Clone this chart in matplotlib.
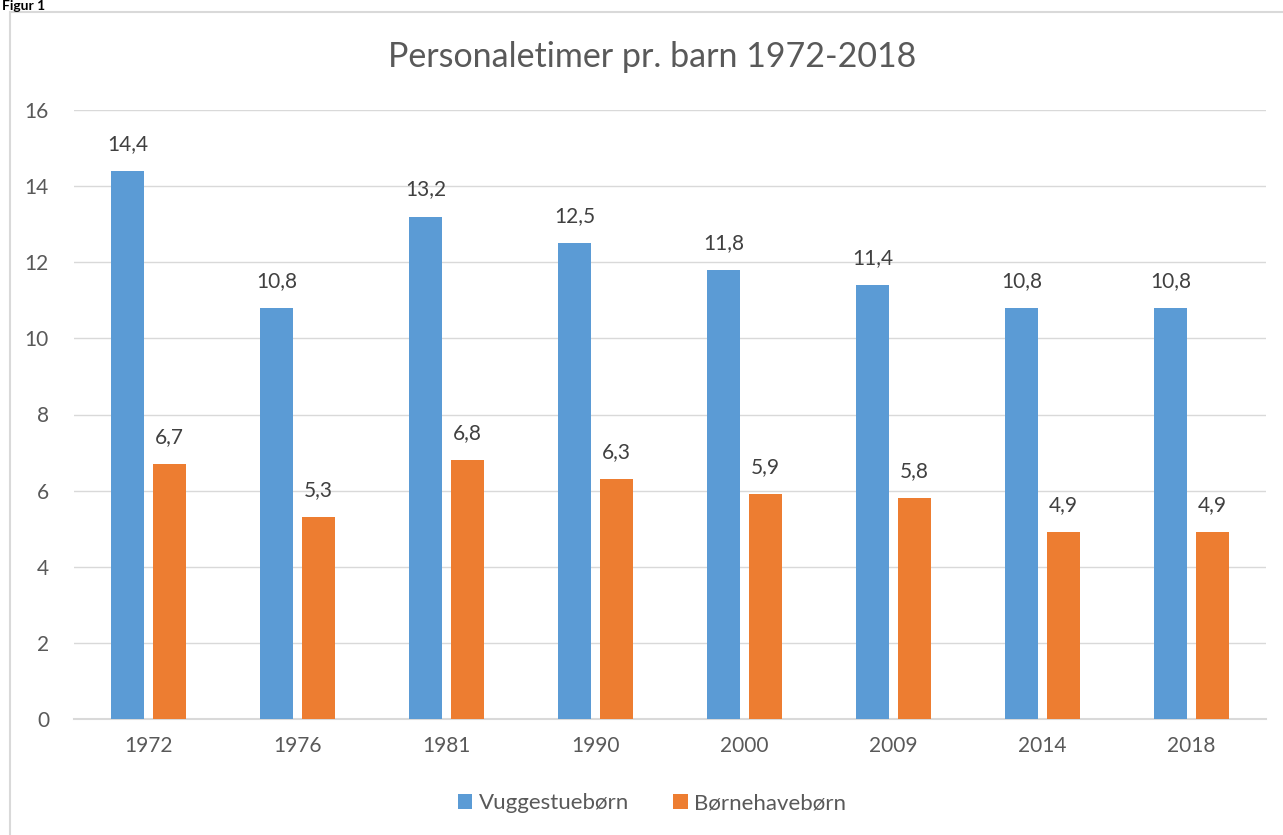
import matplotlib

matplotlib.use("Agg")

import matplotlib.pyplot as plt
from matplotlib.patches import Rectangle
import numpy as np

years = ["1972", "1976", "1981", "1990", "2000", "2009", "2014", "2018"]
vuggestue = [14.4, 10.8, 13.2, 12.5, 11.8, 11.4, 10.8, 10.8]
boernehave = [6.7, 5.3, 6.8, 6.3, 5.9, 5.8, 4.9, 4.9]
yticks = [0, 2, 4, 6, 8, 10, 12, 14, 16]

plt.rcParams["font.family"] = ["Lato", "DejaVu Sans"]
text_color = "#595959"
grid_color = "#D9D9D9"

fig = plt.figure(figsize=(12.83, 8.35), dpi=100)
fig.patch.set_facecolor("white")

# chart frame (runs off at right/bottom like the source screenshot)
fig.patches.append(Rectangle((10 / 1283, -0.05), 1.1, 1 - 12 / 835 + 0.05,
                             transform=fig.transFigure, fill=False,
                             edgecolor=grid_color, linewidth=1.5))
fig.text(2 / 1283, 1 - 10 / 835, "Figur 1", fontsize=10, fontweight="bold",
         color="black", ha="left", va="baseline")

ax = fig.add_axes([74 / 1283, 1 - 719 / 835, (1266 - 74) / 1283, (719 - 110) / 835])
x = np.arange(len(years))
w = 0.222
off = 0.141
b1 = ax.bar(x - off, vuggestue, w, color="#5B9BD5", label="Vuggestuebørn", zorder=3)
b2 = ax.bar(x + off, boernehave, w, color="#ED7D31", label="Børnehavebørn", zorder=3)

for bars, vals in ((b1, vuggestue), (b2, boernehave)):
    for bar, v in zip(bars, vals):
        ax.text(bar.get_x() + bar.get_width() / 2, v + 0.45, f"{v:.1f}".replace(".", ","),
                ha="center", va="bottom", fontsize=15, color="#404040")

ax.set_xlim(-0.5, len(years) - 0.5)
ax.set_ylim(0, 16)
ax.set_yticks(yticks)
ax.set_xticks(x)
ax.set_xticklabels(years)
ax.grid(axis="y", color=grid_color, linewidth=1, zorder=0)
for s in ("top", "right", "left"):
    ax.spines[s].set_visible(False)
ax.spines["bottom"].set_color(grid_color)
ax.spines["bottom"].set_linewidth(1.5)
ax.tick_params(length=0, labelsize=15, labelcolor=text_color)
ax.tick_params(axis="y", pad=18)
ax.tick_params(axis="x", pad=12)

fig.text(652 / 1283, 1 - 57 / 835, "Personaletimer pr. barn 1972-2018", fontsize=24.5,
         color=text_color, ha="center", va="center")

fig.legend(handles=[b1, b2], loc="center", bbox_to_anchor=(652 / 1283, 1 - 803 / 835),
           ncol=2, frameon=False, fontsize=16, labelcolor=text_color,
           handlelength=0.65, handleheight=0.65, handletextpad=0.3, columnspacing=2.0)

fig.savefig("out.png", dpi=100)
